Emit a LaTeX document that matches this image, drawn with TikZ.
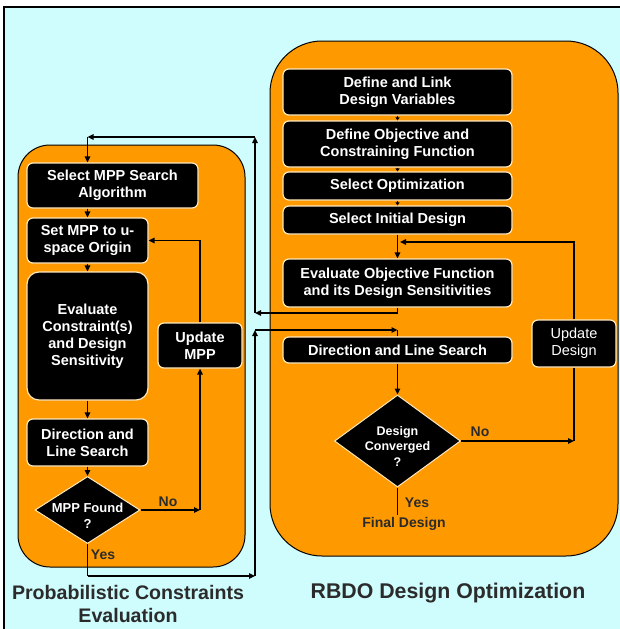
\documentclass[tikz,border=0pt]{standalone}
\usepackage{fontspec}
\setmainfont{Liberation Sans}
\usetikzlibrary{shapes.geometric,arrows.meta}
\definecolor{bgcyan}{HTML}{CFFCFC}
\definecolor{panelorange}{HTML}{FF9900}
\definecolor{boxedge}{HTML}{FFE9BF}
\definecolor{labelgray}{HTML}{2B2B2B}
\begin{document}
\begin{tikzpicture}[x=1pt,y=-1pt,
  box/.style={draw=boxedge, line width=1.2pt, fill=black, rounded corners=6pt, text=white,
    font=\bfseries\fontsize{14.5}{17}\selectfont, align=center, inner sep=0pt},
  boxreg/.style={box, font=\fontsize{14.5}{17}\selectfont},
  dia/.style={shape=diamond, fill=black, draw=boxedge, line width=1pt, inner sep=0pt},
  dtext/.style={text=white, font=\bfseries\fontsize{13}{15.5}\selectfont, align=center, inner sep=0pt},
  panel/.style={fill=panelorange, draw=black, line width=1pt},
  conn/.style={line width=1.6pt, draw=black},
  arr/.style={conn, -{Triangle[length=6pt,width=5.5pt]}},
  sarr/.style={conn, -{Triangle[length=3pt,width=4pt]}},
  lbl/.style={text=labelgray, font=\bfseries\fontsize{14}{16}\selectfont, inner sep=0pt},
  ttl/.style={text=labelgray, font=\bfseries\fontsize{19.6}{23}\selectfont, align=center, inner sep=0pt}
]
\useasboundingbox (0,0) rectangle (620,629);
\fill[white] (0,0) rectangle (620,629);
\fill[bgcyan] (4,7) rectangle (620,629);
\draw[line width=1.5pt] (4,629) -- (4,7) -- (620,7);

% panels
\draw[panel, rounded corners=32pt] (18,145) rectangle (245,567);
\draw[panel, rounded corners=52pt] (270,41) rectangle (618,556);

% right panel boxes
\node[box, minimum width=229pt, minimum height=46pt] (DefLink) at (397.5,92) {Define and Link\\Design Variables};
\node[box, minimum width=229pt, minimum height=46pt] (DefObj) at (397.5,144) {Define Objective and\\Constraining Function};
\node[box, minimum width=229pt, minimum height=28pt] (SelOpt) at (397.5,186) {Select Optimization};
\node[box, minimum width=229pt, minimum height=28pt] (SelInit) at (397.5,220) {Select Initial Design};
\node[box, minimum width=229pt, minimum height=48pt] (EvalObj) at (397.5,283) {Evaluate Objective Function\\and its Design Sensitivities};
\node[box, minimum width=229pt, minimum height=26pt] (DLSR) at (397.5,350) {Direction and Line Search};
\node[boxreg, minimum width=84pt, minimum height=47pt] (UpdD) at (574,343.5) {Update\\Design};
\node[dia, minimum width=126pt, minimum height=92pt] (dconv) at (397.5,441) {};
\node[dtext, font=\bfseries\fontsize{12.5}{15.5}\selectfont] (dconvt) at (397.5,446) {Design\\Converged\\?};

% left panel boxes
\node[box, minimum width=171pt, minimum height=45pt] (SelMPP) at (112.5,185.5) {Select MPP Search\\Algorithm};
\node[box, minimum width=121pt, minimum height=45pt] (SetMPP) at (87.5,240.5) {Set MPP to u-\\space Origin};
\node[box, rounded corners=12pt, minimum width=121pt, minimum height=128pt] (EvalC) at (87.5,336) {Evaluate\\Constraint(s)\\and Design\\Sensitivity};
\node[box, minimum width=84pt, minimum height=45pt] (UpdMPP) at (200,345.5) {Update\\MPP};
\node[box, minimum width=121pt, minimum height=47pt] (DLSL) at (87.5,442.5) {Direction and\\Line Search};
\node[dia, minimum width=105pt, minimum height=67pt] (mppf) at (87.5,510) {};
\node[dtext] (mppft) at (87.5,516) {MPP Found\\?};

% left internal connectors
\draw[arr] (SetMPP.north |- SelMPP.south) -- (SetMPP.north);
\draw[arr] (SetMPP) -- (EvalC);
\draw[arr] (EvalC) -- (DLSL);
\draw[arr] (DLSL) -- (mppf);

% MPP not found loop
\coordinate (n1) at (200,510);
\draw[arr] (mppf.east) -- (n1);
\draw[arr] (n1) -- (UpdMPP.south);
\draw[arr] (UpdMPP.north) |- (SetMPP.east);

% MPP found -> direction and line search (right)
\coordinate (y1) at (87.5,576);
\coordinate (y2) at (255,576);
\coordinate (y3) at (255,330);
\coordinate (y4) at (397.5,330);
\draw[conn] (mppf.south) -- (y1);
\draw[arr] (y1) -- (y2);
\draw[arr] (y2) -- (y3);
\draw[arr] (y3) -- (y4);
\draw[conn] (y4) -- (DLSR.north);

% evaluate objective -> MPP search
\coordinate (e1) at (397.5,313);
\coordinate (e2) at (255,313);
\coordinate (e3) at (255,137);
\coordinate (e4) at (87.5,137);
\draw[conn] (EvalObj.south) -- (e1);
\draw[arr] (e1) -- (e2);
\draw[arr] (e2) -- (e3);
\draw[arr] (e3) -- (e4);
\draw[arr] (e4) -- (SelMPP.north -| e4);

% right internal connectors
\draw[sarr] (DefLink) -- (DefObj);
\draw[sarr] (DefObj) -- (SelOpt);
\draw[sarr] (SelOpt) -- (SelInit);
\draw[arr] (SelInit) -- (EvalObj);
\draw[arr] (DLSR) -- (dconv);

% design not converged loop
\coordinate (r1) at (574,441);
\coordinate (r3) at (400,242);
\draw[arr] (dconv.east) -- (r1);
\draw[conn] (r1) -- (UpdD.south);
\draw[arr] (UpdD.north) |- (r3);

% converged
\coordinate (f1) at (397.5,515);
\draw[conn] (dconv.south) -- (f1);

% labels
\node[lbl] (yesR) at (417,503) {Yes};
\node[lbl] (finalD) at (404,524) {Final Design};
\node[lbl] (noR) at (480,432) {No};
\node[lbl] (noL) at (168,502) {No};
\node[lbl] (yesL) at (103,555) {Yes};

% titles
\node[ttl] (t1) at (128,603.5) {Probabilistic Constraints\\Evaluation};
\node[ttl, font=\bfseries\fontsize{21.3}{23}\selectfont] (t2) at (448,593) {RBDO Design Optimization};
\end{tikzpicture}
\end{document}
